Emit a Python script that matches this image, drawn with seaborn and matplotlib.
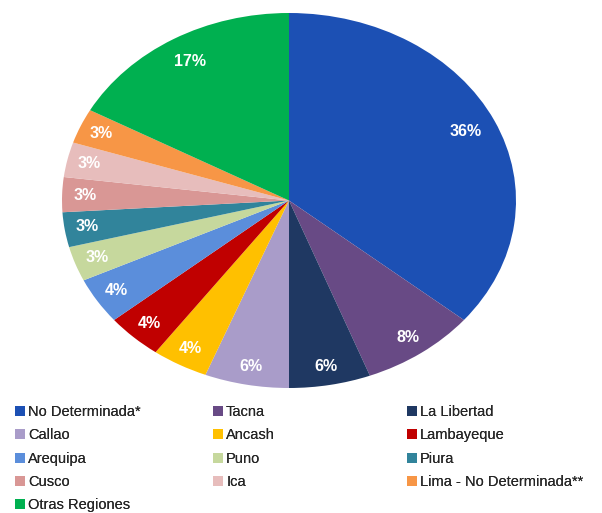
import matplotlib
matplotlib.use("Agg")
import matplotlib.pyplot as plt
from matplotlib.patches import Patch
import numpy as np
import seaborn as sns

sns.set_theme(style="white")
plt.rcParams['font.family'] = ['Liberation Sans', 'DejaVu Sans']

regions = ["No Determinada*", "Tacna", "La Libertad", "Callao", "Ancash",
           "Lambayeque", "Arequipa", "Puno", "Piura", "Cusco", "Ica",
           "Lima - No Determinada**", "Otras Regiones"]
shares = [36.0, 8.2, 5.8, 6.0, 4.0, 4.0, 4.0, 3.0, 3.0, 3.0, 3.0, 3.0, 17.0]
pct_labels = ["36%", "8%", "6%", "6%", "4%", "4%", "4%", "3%", "3%", "3%", "3%", "3%", "17%"]
colors = ["#1C50B4", "#684A85", "#1F3862", "#A99CC9", "#FFC000", "#C00000",
          "#5B8EDB", "#C6D89D", "#31849B", "#D99795", "#E7BDBC", "#F79646", "#00B050"]

W, H = 602, 513
fig = plt.figure(figsize=(W / 100, H / 100), dpi=100)
# pie bounding box in pixels: x 62-516, y 13-388
ax = fig.add_axes([62 / W, 1 - 388 / H, (516 - 62) / W, (388 - 13) / H])

wedges, _ = ax.pie(shares, colors=colors, startangle=90, counterclock=False,
                   radius=1.0, wedgeprops=dict(linewidth=0))
ax.set_aspect('auto')
ax.set_xlim(-1, 1)
ax.set_ylim(-1, 1)
ax.axis('off')

cum = np.cumsum([0] + shares[:-1])
tot = sum(shares)
for s, c, lab in zip(shares, cum, pct_labels):
    mid = (c + s / 2) / tot * 2 * np.pi
    r = 0.86 if s > 10 else 0.9
    ax.text(r * np.sin(mid), r * np.cos(mid), lab, ha='center', va='center',
            color='white', fontsize=11.5, fontweight='bold')

# legend: three columns, row-major reading order
col_idx = [[0, 3, 6, 9, 12], [1, 4, 7, 10], [2, 5, 8, 11]]
col_x = [15, 213, 407]
for xs, idxs in zip(col_x, col_idx):
    handles = [Patch(facecolor=colors[i], edgecolor='none') for i in idxs]
    labels = [regions[i] for i in idxs]
    leg = fig.legend(handles, labels, loc='upper left',
                     bbox_to_anchor=(xs / W, 1 - 405 / H),
                     frameon=False, fontsize=10.5, handlelength=0.68,
                     handleheight=0.68, handletextpad=0.22,
                     labelspacing=0.64, borderpad=0, borderaxespad=0)
    fig.add_artist(leg)

fig.savefig("out.png", dpi=100)
